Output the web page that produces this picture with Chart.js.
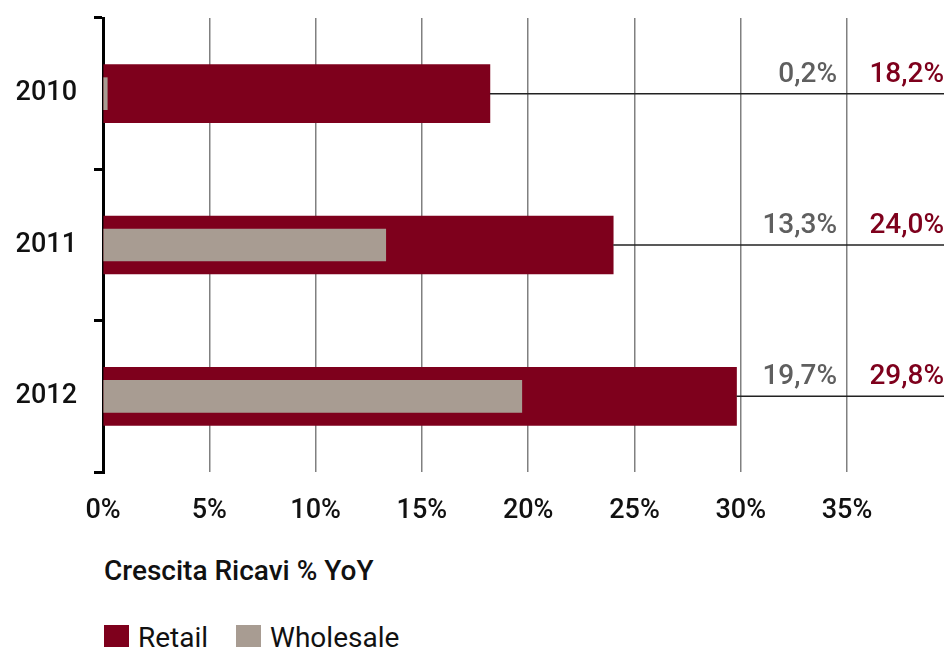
<!DOCTYPE html>
<html>
<head>
<meta charset="utf-8">
<script src="https://cdn.jsdelivr.net/npm/chart.js@4"></script>
<style>
  body { margin: 0; background: #fff; font-family: Roboto, "Liberation Sans", Arial, sans-serif; }
  #wrap { position: relative; width: 949px; height: 647px; overflow: hidden; }
  #chart { position: absolute; left: 0; top: 0; }
  .title { position: absolute; left: 104px; top: 554px; font-size: 28px; font-weight: 500; color: #111; }
  .legend { position: absolute; left: 104px; top: 621px; display: flex; align-items: center; font-size: 28px; color: #111; }
  .sw { width: 25px; height: 25px; display: inline-block; margin-right: 9px; }
  .item { display: flex; align-items: center; margin-right: 28px; }
</style>
</head>
<body>
<div id="wrap">
  <canvas id="chart" width="949" height="540"></canvas>
  <div class="title">Crescita Ricavi % YoY</div>
  <div class="legend">
    <span class="item"><span class="sw" style="background:#7e001c"></span>Retail</span>
    <span class="item"><span class="sw" style="background:#a89c92"></span>Wholesale</span>
  </div>
</div>
<script>
const years = ['2010', '2011', '2012'];
const retail = [18.2, 24.0, 29.8];
const wholesale = [0.2, 13.3, 19.7];
const xTickValues = [0, 5, 10, 15, 20, 25, 30, 35];

const red = '#7e001c';
const taupe = '#a89c92';
const fontFamily = 'Roboto, "Liberation Sans", Arial, sans-serif';
const fmt = (v) => v.toFixed(1).replace('.', ',') + '%';

// horizontal leader lines + value labels on the right
const sideLabels = {
    id: 'sideLabels',
    afterDatasetsDraw(chart) {
        const { ctx, chartArea, scales: { x, y } } = chart;
        const lastTick = xTickValues[xTickValues.length - 1];
        ctx.save();
        years.forEach((yr, i) => {
            const cy = y.getPixelForValue(i);
            const x0 = x.getPixelForValue(Math.max(retail[i], wholesale[i]));
            ctx.strokeStyle = '#222';
            ctx.lineWidth = 1.5;
            ctx.beginPath();
            ctx.moveTo(x0, cy);
            ctx.lineTo(chartArea.right, cy);
            ctx.stroke();

            ctx.font = '500 28px ' + fontFamily;
            ctx.textAlign = 'right';
            ctx.textBaseline = 'alphabetic';
            ctx.fillStyle = '#5f5f5f';
            ctx.fillText(fmt(wholesale[i]), x.getPixelForValue(lastTick) - 10, cy - 12);
            ctx.fillStyle = red;
            ctx.fillText(fmt(retail[i]), chartArea.right, cy - 12);
        });
        ctx.restore();
    }
};

new Chart(document.getElementById('chart').getContext('2d'), {
    type: 'bar',
    data: {
        labels: years,
        datasets: [
            {
                label: 'Retail',
                data: retail,
                backgroundColor: red,
                barThickness: 58,
                grouped: false,
                order: 1,
            },
            {
                label: 'Wholesale',
                data: wholesale,
                backgroundColor: taupe,
                barThickness: 32,
                grouped: false,
                order: 0,
            },
        ],
    },
    options: {
        indexAxis: 'y',
        responsive: false,
        animation: false,
        layout: { padding: { top: 18, right: 5, left: 0, bottom: 0 } },
        plugins: {
            legend: { display: false },
            tooltip: { enabled: false },
        },
        scales: {
            x: {
                min: 0,
                max: 39.56,
                afterBuildTicks: (s) => { s.ticks = xTickValues.map((v) => ({ value: v })); },
                afterFit: (s) => { s.height = 68; s.paddingLeft = 0; s.paddingRight = 0; },
                ticks: {
                    color: '#111',
                    padding: 23,
                    autoSkip: false,
                    maxRotation: 0,
                    font: { family: fontFamily, size: 27, weight: 500 },
                    callback: (v) => v + '%',
                },
                grid: { color: '#808080', lineWidth: 1.5, drawTicks: false },
                border: { display: false },
            },
            y: {
                afterFit: (s) => { s.width = 103; s.paddingTop = 0; s.paddingBottom = 0; },
                ticks: {
                    color: '#111',
                    padding: 17,
                    font: { family: fontFamily, size: 27, weight: 500 },
                },
                grid: { drawOnChartArea: false, color: '#000', lineWidth: 3, tickLength: 9 },
                border: { display: true, color: '#000', width: 3 },
            },
        },
    },
    plugins: [sideLabels],
});
</script>
</body>
</html>
